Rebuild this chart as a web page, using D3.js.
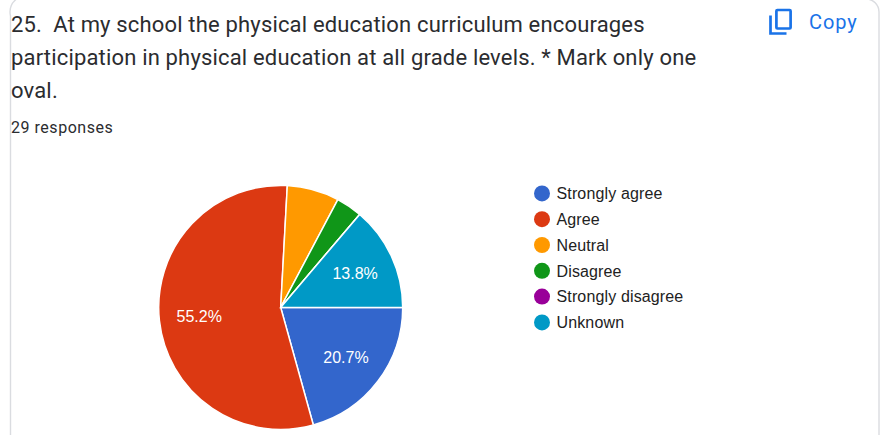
<!DOCTYPE html>
<html><head><meta charset="utf-8">
<script src="https://cdn.jsdelivr.net/npm/d3@7/dist/d3.min.js"></script>
<style>html,body{margin:0;padding:0;background:#fff;overflow:hidden}svg{display:block}</style>
</head><body><svg id="c" width="880" height="435"></svg>
<script>
const categories = ["Strongly agree","Agree","Neutral","Disagree","Strongly disagree","Unknown"];
const counts = [6,16,2,1,0,4];
const colors = ["#3366cc","#dc3912","#ff9900","#109618","#990099","#0099c6"];
const titleLines = ["25.  At my school the physical education curriculum encourages","participation in physical education at all grade levels. * Mark only one","oval."];
const responses = "29 responses";
const svg = d3.select("#c");
const total = d3.sum(counts);
// card
svg.append("path").attr("d","M10.5 435V16a17 17 0 0 1 6-17H866a13 13 0 0 1 13 13V435").attr("fill","none").attr("stroke","#dadce0").attr("stroke-width",1.4);
// title
svg.selectAll("text.t").data(titleLines).join("text").attr("class","t").attr("x",11).style("white-space","pre")
  .attr("y",(d,i)=>31.5+i*33).attr("font-family","Roboto").attr("font-size",22).attr("letter-spacing",0.17).attr("fill","#2b2c2f").text(d=>d);
svg.append("text").attr("x",11).attr("y",133).attr("font-family","Roboto").attr("font-size",16).attr("letter-spacing",0.53).attr("fill","#2b2c2f").text(responses);
// copy
svg.append("path").attr("d","M770.5 15.5v18h16").attr("fill","none").attr("stroke","#1a73e8").attr("stroke-width",2.7);
svg.append("rect").attr("x",776.4).attr("y",10).attr("width",14.2).attr("height",18.5).attr("rx",1).attr("fill","none").attr("stroke","#1a73e8").attr("stroke-width",2.7);
svg.append("text").attr("x",809).attr("y",29).attr("font-family","Roboto").attr("font-size",20).attr("letter-spacing",0.9).attr("fill","#1a73e8").text("Copy");
// pie
const pie = d3.pie().sort(null).value(d=>d).startAngle(Math.PI/2).endAngle(Math.PI*2.5);
const arc = d3.arc().innerRadius(0).outerRadius(122);
const g = svg.append("g").attr("transform","translate(280.7,307.4)");
const arcs = pie(counts);
g.selectAll("path").data(arcs).join("path").attr("d",arc).attr("fill",(d,i)=>colors[i]).attr("stroke","#fff").attr("stroke-width",1.5);
g.selectAll("text").data(arcs.filter(d=>d.data/total>0.1)).join("text")
  .attr("transform",d=>{const a=(d.startAngle+d.endAngle)/2;const r=82;return `translate(${Math.sin(a)*r},${-Math.cos(a)*r})`;})
  .attr("text-anchor","middle").attr("dy","0.36em").attr("font-family","Liberation Sans").attr("font-size",16).attr("fill","#fff").text(d=>d3.format(".1f")(d.data/total*100)+"%");
// legend
const y = d3.scalePoint().domain(categories).range([193.4,322.4]);
const lg = svg.append("g").selectAll("g").data(categories).join("g").attr("transform",d=>`translate(542,${y(d)})`);
lg.append("circle").attr("r",8).attr("fill",(d,i)=>colors[i]);
lg.append("text").attr("x",14.5).attr("dy","0.36em").attr("font-family","Liberation Sans").attr("font-size",16).attr("letter-spacing",0.14).attr("fill","#222").text(d=>d);
</script></body></html>
